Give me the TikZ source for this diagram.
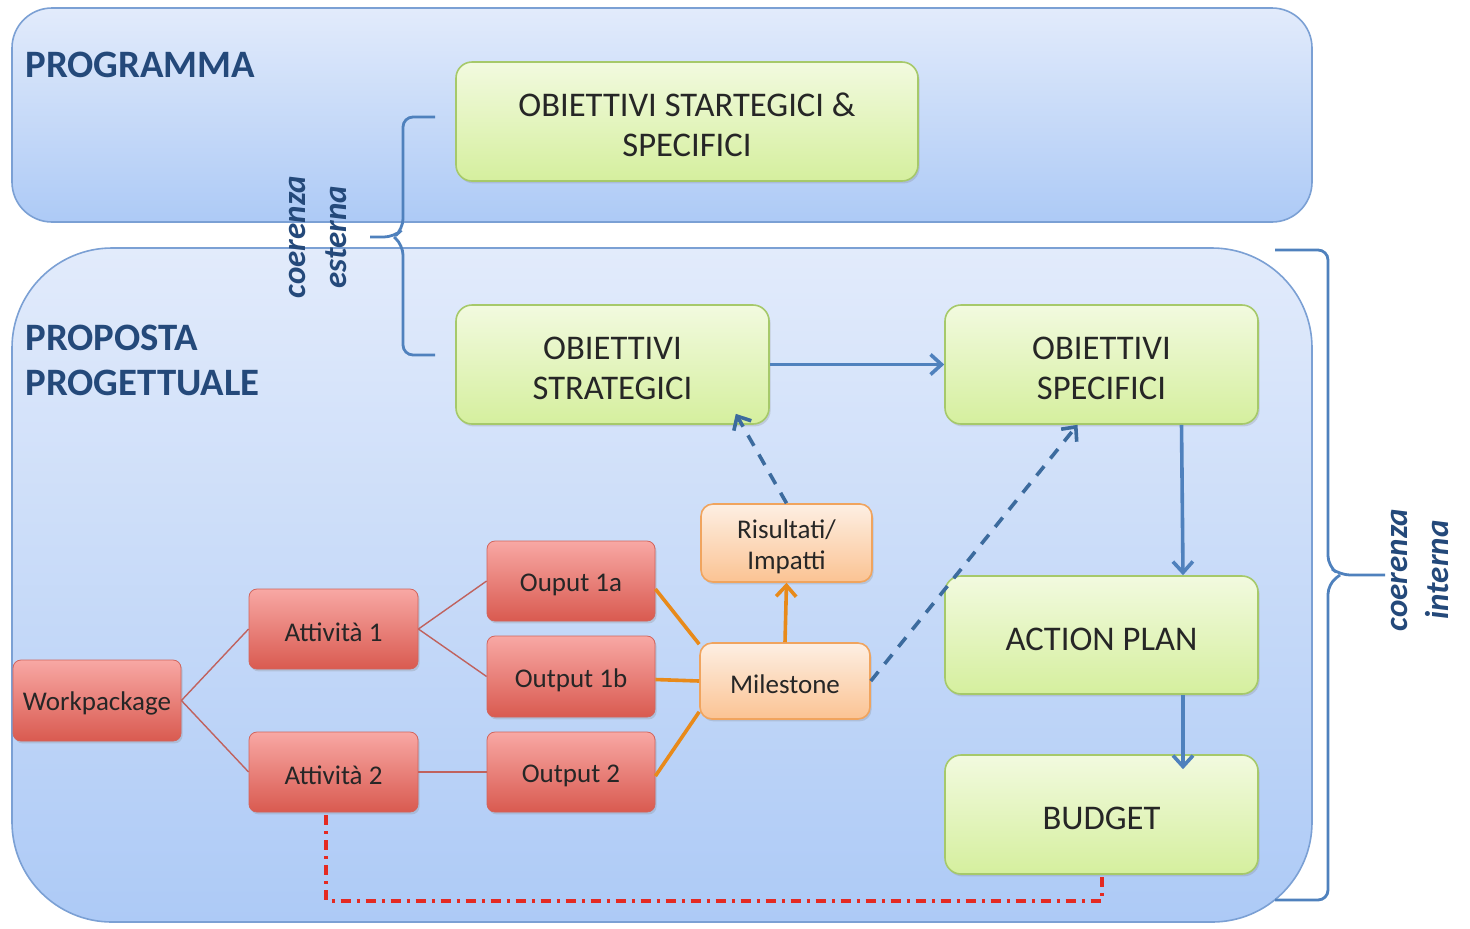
\documentclass[tikz,border=0pt]{standalone}
\usepackage{fontspec}
\setmainfont{Carlito}
\usetikzlibrary{arrows.meta,shadows}
\definecolor{frameT}{HTML}{E2EBFB}
\definecolor{frameB}{HTML}{ADCAF6}
\definecolor{frameD}{HTML}{7BA0D4}
\definecolor{grnT}{HTML}{F2FADF}
\definecolor{grnB}{HTML}{D5EF9E}
\definecolor{grnD}{HTML}{A6C96A}
\definecolor{redT}{HTML}{F8A8A4}
\definecolor{redB}{HTML}{D95A50}
\definecolor{redD}{HTML}{D2645C}
\definecolor{orT}{HTML}{FDEFE3}
\definecolor{orB}{HTML}{FBC393}
\definecolor{orD}{HTML}{F0A45E}
\definecolor{orL}{HTML}{E88A1A}
\definecolor{titleC}{HTML}{24497A}
\definecolor{blueL}{HTML}{4F81BD}
\definecolor{blueDash}{HTML}{3C6B9E}
\definecolor{wireC}{HTML}{C0625E}
\definecolor{dashRed}{HTML}{E42A22}
\newcommand\gstrut{\rule{0pt}{15.3pt}}
\newcommand\ostrut{\rule{0pt}{12.8pt}}
\tikzset{
  frame/.style={draw=frameD, line width=0.8pt, top color=frameT, bottom color=frameB, inner sep=0pt},
  shad/.style={drop shadow={shadow xshift=0.8pt, shadow yshift=-1.2pt, opacity=0.25}},
  greenbox/.style={shad, draw=grnD, line width=0.8pt, top color=grnT, bottom color=grnB, rounded corners=8pt, align=center, font=\fontsize{17.3}{20}\selectfont, text=black!85, inner sep=0pt},
  redbox/.style={shad, draw=redD, line width=0.4pt, top color=redT, bottom color=redB, rounded corners=4pt, align=center, font=\fontsize{13.5}{15.5}\selectfont, text=black!85, inner sep=0pt, minimum width=84pt, minimum height=40pt},
  orbox/.style={shad, draw=orD, line width=0.8pt, top color=orT, bottom color=orB, rounded corners=6pt, align=center, font=\fontsize{13.5}{15.5}\selectfont, text=black!85, inner sep=0pt},
  titletext/.style={font=\bfseries\fontsize{19.4}{22.5}\selectfont, text=titleC, align=left, inner sep=0pt},
  cohtext/.style={font=\bfseries\itshape\fontsize{16.5}{20.5}\selectfont, text=titleC, align=center, rotate=90, inner sep=0pt},
  bracket/.style={draw=blueL, line width=1.4pt, rounded corners=5pt},
  wire/.style={draw=wireC, line width=0.7pt},
  orwire/.style={draw=orL, line width=1.8pt},
  bluearrow/.style={draw=blueL, line width=1.8pt, -{Straight Barb[length=5.5pt,width=10pt,line width=1.8pt]}},
  bluedash/.style={draw=blueDash, line width=1.8pt, dash pattern=on 6pt off 5pt, -{Straight Barb[length=5.5pt,width=10pt,line width=1.8pt]}},
  orarrow/.style={draw=orL, line width=1.8pt, -{Straight Barb[length=5.5pt,width=10pt,line width=1.8pt]}},
  reddash/.style={draw=dashRed, line width=2pt, dash pattern=on 5pt off 3pt on 1.5pt off 3pt}
}
\begin{document}
\begin{tikzpicture}[x=0.5pt,y=-0.5pt]
\useasboundingbox (0,0) rectangle (1470,928);
\fill[white] (0,0) rectangle (1470,928);
% frames
\node[frame, rounded corners=20pt, minimum width=650pt, minimum height=107pt] (prog) at (662,115) {};
\node[frame, rounded corners=50pt, minimum width=650pt, minimum height=337pt] (prop) at (662,585) {};
% titles
\node[titletext, anchor=west] (tprog) at (25,65) {PROGRAMMA};
\node[titletext, anchor=west] (tprop) at (25,360) {PROPOSTA\\PROGETTUALE};
% green boxes
\node[greenbox, minimum width=231pt, minimum height=59.5pt] (oss) at (687,121.5) {\gstrut OBIETTIVI STARTEGICI \&\\SPECIFICI};
\node[greenbox, minimum width=156.5pt, minimum height=59.5pt] (os) at (612.5,364.5) {\gstrut OBIETTIVI\\STRATEGICI};
\node[greenbox, minimum width=156.5pt, minimum height=59.5pt] (osp) at (1101.5,364.5) {\gstrut OBIETTIVI\\SPECIFICI};
\node[greenbox, minimum width=156.5pt, minimum height=59pt] (ap) at (1101.5,635) {\gstrut ACTION PLAN};
\node[greenbox, minimum width=156.5pt, minimum height=59.5pt] (bud) at (1101.5,814.5) {\gstrut BUDGET};
% orange boxes
\node[orbox, minimum width=85.5pt, minimum height=39pt] (ris) at (786.5,543) {\ostrut Risultati/\\Impatti};
\node[orbox, minimum width=85pt, minimum height=38pt] (mil) at (785,681) {\ostrut Milestone};
% red boxes
\node[redbox, minimum height=40.5pt] (wp) at (97,700.5) {\ostrut Workpackage};
\node[redbox, minimum width=84.5pt] (a1) at (333.5,629) {\ostrut Attività 1};
\node[redbox, minimum width=84.5pt] (a2) at (333.5,772) {\ostrut Attività 2};
\node[redbox] (o1a) at (571,581) {\ostrut Ouput 1a};
\node[redbox, minimum height=40.5pt] (o1b) at (571,676.5) {\ostrut Output 1b};
\node[redbox] (o2) at (571,772) {\ostrut Output 2};
% tree wires
\draw[wire] (wp.east) -- (a1.west);
\draw[wire] (wp.east) -- (a2.west);
\draw[wire] (a1.east) -- (o1a.west);
\draw[wire] (a1.east) -- (o1b.west);
\draw[wire] (a2.east) -- (o2.west);
% orange wires
\draw[orwire] ([yshift=-4pt]o1a.east) -- ([yshift=-1pt]mil.north west);
\draw[orwire] ([yshift=-1.5pt]o1b.east) -- (mil.west);
\draw[orwire] ([yshift=-2pt]o2.east) -- ([yshift=4pt]mil.south west);
\draw[orarrow] (mil.north) -- (ris.south);
% blue arrows
\draw[bluearrow] (os.east) -- (osp.west);
\draw[bluearrow] ([xshift=40pt]osp.south) -- ([xshift=40.75pt]ap.north);
\draw[bluearrow] ([xshift=40.75pt]ap.south) -- ([xshift=40.75pt,yshift=-7.5pt]bud.north);
\draw[bluedash] (ris.north) -- ([xshift=-17pt,yshift=5.5pt]os.south east);
\draw[bluedash] (mil.east) -- ([xshift=-12pt]osp.south);
% red dash-dot
\draw[reddash] ([xshift=-3.75pt,yshift=-1.5pt]a2.south) |- ([yshift=-13pt]bud.south) -- (bud.south);
% brackets
\draw[bracket] (435,117) -- (403,117) -- (403,229) -- (394,237) -- (370,237);
\draw[bracket] (394,237) -- (403,245) -- (403,355) -- (435,355);
\draw[bracket] (1275,250) -- (1328,250) -- (1328,566) -- (1340,575) -- (1385,575);
\draw[bracket] (1340,575) -- (1328,584) -- (1328,900) -- (1275,900);
\node[cohtext] (ce) at (318,237) {coerenza\\esterna};
\node[cohtext] (ci) at (1420,570) {coerenza\\interna};
\end{tikzpicture}
\end{document}
